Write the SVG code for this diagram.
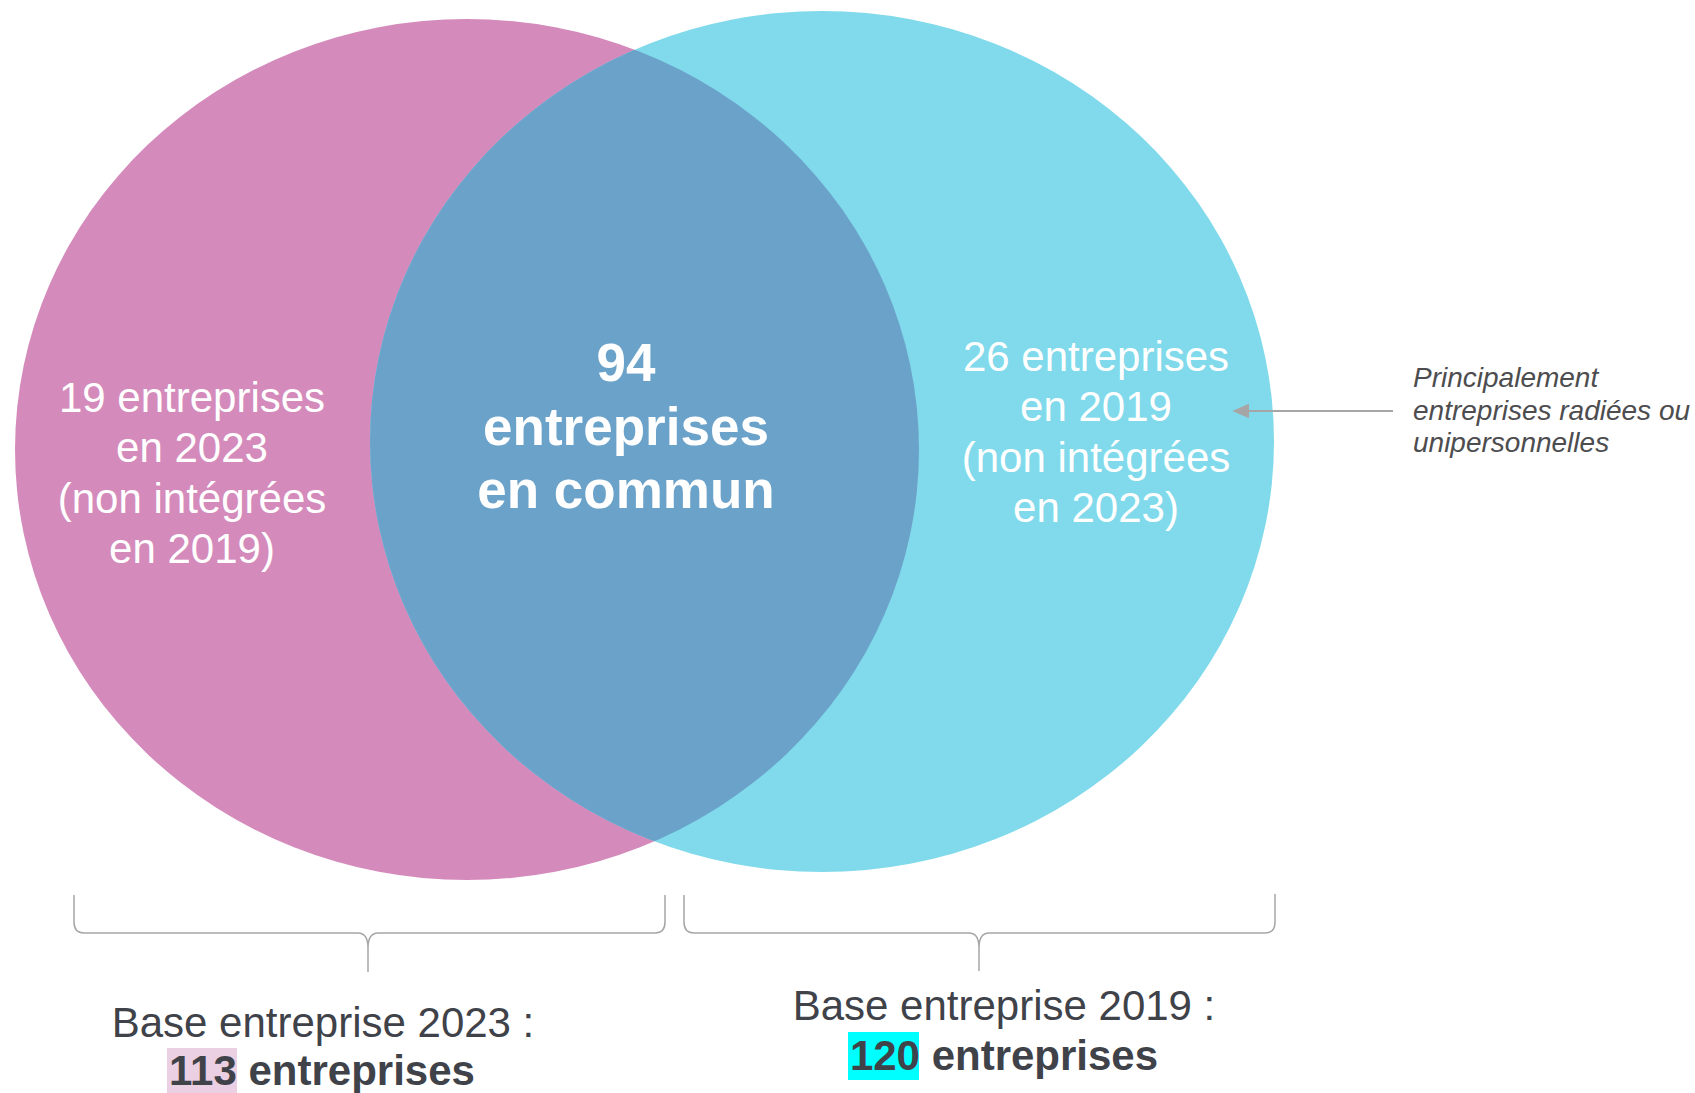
<svg xmlns="http://www.w3.org/2000/svg" width="1695" height="1093" viewBox="0 0 1695 1093">
  <style>
    .lbl { font-family: "Liberation Sans", Arial, sans-serif; fill: #ffffff; font-size: 42px; text-anchor: middle; }
    .big { font-family: "Liberation Sans", Arial, sans-serif; fill: #ffffff; font-size: 53px; font-weight: bold; text-anchor: middle; }
    .base { font-family: "Liberation Sans", Arial, sans-serif; fill: #404249; font-size: 42px; text-anchor: middle; }
    .note { font-family: "Liberation Sans", Arial, sans-serif; fill: #4d4d4f; font-size: 28px; font-style: italic; }
    .brace { fill: none; stroke: #a6a6a6; stroke-width: 1.5; }
    .conn { stroke: #a6a6a6; stroke-width: 1.8; fill: none; }
  </style>
  <defs>
    <clipPath id="clipLeft">
      <ellipse cx="467" cy="449.5" rx="452" ry="430.5"/>
    </clipPath>
    <marker id="arrow" viewBox="0 0 10 10" refX="9" refY="5" markerWidth="17" markerHeight="15" markerUnits="userSpaceOnUse" orient="auto" preserveAspectRatio="none">
      <path d="M0,0 L10,5 L0,10 Z" fill="#a6a6a6"/>
    </marker>
  </defs>
  <rect width="1695" height="1093" fill="#ffffff"/>

  <g id="set-2023">
    <ellipse cx="467" cy="449.5" rx="452" ry="430.5" fill="#d48bbb"/>
  </g>
  <g id="set-2019">
    <ellipse cx="822" cy="441.5" rx="452" ry="430.5" fill="#80daeb"/>
  </g>
  <g id="intersection">
    <ellipse cx="822" cy="441.5" rx="452" ry="430.5" fill="#6ba2c9" clip-path="url(#clipLeft)"/>
  </g>

  <g id="label-left">
    <text class="lbl" x="192" y="412">19 entreprises</text>
    <text class="lbl" x="192" y="462">en 2023</text>
    <text class="lbl" x="192" y="513">(non intégrées</text>
    <text class="lbl" x="192" y="563">en 2019)</text>
  </g>
  <g id="label-common">
    <text class="big" x="626" y="381">94</text>
    <text class="big" x="626" y="445">entreprises</text>
    <text class="big" x="626" y="508">en commun</text>
  </g>
  <g id="label-right">
    <text class="lbl" x="1096" y="371">26 entreprises</text>
    <text class="lbl" x="1096" y="421">en 2019</text>
    <text class="lbl" x="1096" y="472">(non intégrées</text>
    <text class="lbl" x="1096" y="522">en 2023)</text>
  </g>

  <g id="note">
    <text class="note" x="1413" y="387">Principalement</text>
    <text class="note" x="1413" y="420">entreprises radiées ou</text>
    <text class="note" x="1413" y="452">unipersonnelles</text>
  </g>

  <g id="connectors">
    <line class="conn" x1="1393" y1="411" x2="1234" y2="411" marker-end="url(#arrow)"/>
  </g>

  <g id="brace-2023">
    <path class="brace" d="M74,895 L74,922 Q74,933 84,933 L358,933 Q368,933 368,948 L368,972 M368,948 Q368,933 378,933 L655,933 Q665,933 665,922 L665,895"/>
  </g>
  <g id="brace-2019">
    <path class="brace" d="M684,895 L684,922 Q684,933 694,933 L969,933 Q979,933 979,948 L979,971 M979,948 Q979,933 989,933 L1265,933 Q1275,933 1275,922 L1275,894"/>
  </g>

  <g id="base-2023">
    <text class="base" x="323" y="1037">Base entreprise 2023 :</text>
    <rect x="167" y="1048" width="70" height="45" fill="#ebcfe3"/>
    <text class="base" x="322" y="1085" font-weight="bold">113 entreprises</text>
  </g>
  <g id="base-2019">
    <rect x="848" y="1032" width="71" height="48" fill="#00ffff"/>
    <text class="base" x="1004" y="1020">Base entreprise 2019 :</text>
    <text class="base" x="1004" y="1070" font-weight="bold">120 entreprises</text>
  </g>
</svg>
